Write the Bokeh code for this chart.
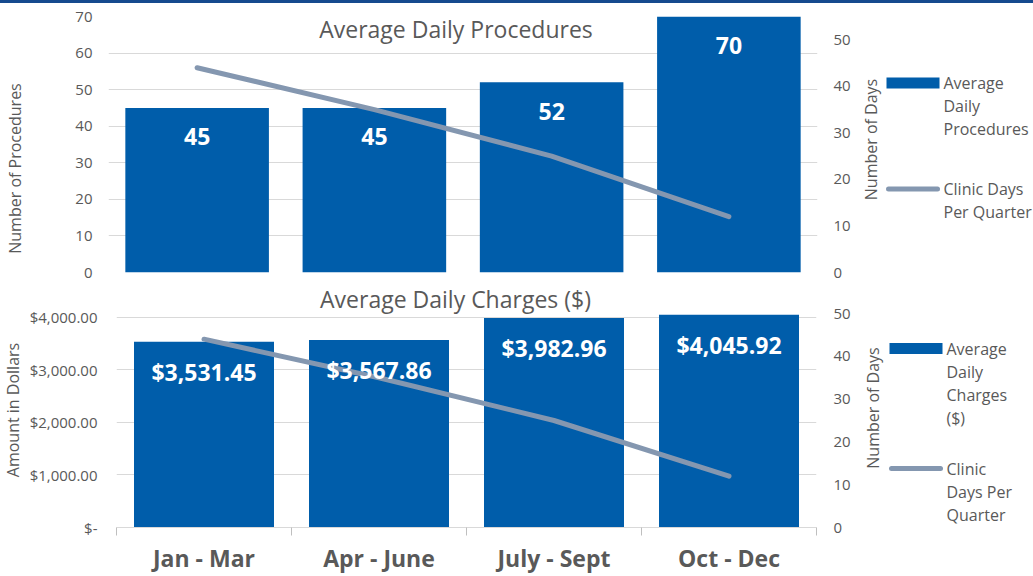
import math
from bokeh.plotting import figure
from bokeh.models import Range1d, LinearAxis, FixedTicker, Label, Div
from bokeh.layouts import column, row
from bokeh.embed import file_html
from bokeh.resources import INLINE
from bokeh.core.properties import value

# ---------------- data ----------------
quarters = ["Jan - Mar", "Apr - June", "July - Sept", "Oct - Dec"]
procedures = [45, 45, 52, 70]
charges = [3531.45, 3567.86, 3982.96, 4045.92]
clinic_days = [44, 35, 25, 12]

proc_ticks = [0, 10, 20, 30, 40, 50, 60, 70]
days_ticks = [0, 10, 20, 30, 40, 50]
charge_ticks = [0, 1000, 2000, 3000, 4000]
charge_tick_labels = ["$-", "$1,000.00", "$2,000.00", "$3,000.00", "$4,000.00"]

legend_top_bar = ["Average", "Daily", "Procedures"]
legend_top_line = ["Clinic Days", "Per Quarter"]
legend_bot_bar = ["Average", "Daily", "Charges", "($)"]
legend_bot_line = ["Clinic", "Days Per", "Quarter"]

# ---------------- style / layout ----------------
BAR = "#005DAA"
LINE = "#8497B0"
TXT = "#595959"
GRID = "#D9D9D9"
FONT = "Open Sans"

xs = [i + 0.5 for i in range(len(quarters))]
seps = [i for i in range(len(quarters) + 1)]

W_LEFT = 24
X_RIGHT = 858            # page x where the right-hand strip starts
W_RIGHT = 1033 - X_RIGHT
W_MAIN = X_RIGHT - W_LEFT

# top panel: page y 3..283, frame 16..272 ; bottom panel: page y 283..576, frame 283..527
TOP1, H1, BT1, BB1 = 3, 280, 13, 11
TOP2, H2, BT2, BB2 = 283, 293, 0, 49
FH1 = H1 - BT1 - BB1
FH2 = H2 - BT2 - BB2


def style_yaxis(ax, tick_standoff):
    ax.major_label_standoff = tick_standoff
    ax.major_label_text_font = FONT
    ax.major_label_text_font_size = "15px"
    ax.major_label_text_color = TXT
    ax.major_tick_line_color = None
    ax.minor_tick_line_color = None
    ax.axis_line_color = None


def base_fig(h, y_end, days_end, bl, br, bt, bb):
    p = figure(width=W_MAIN, height=h, x_range=Range1d(0, len(quarters)),
               y_range=Range1d(0, y_end), output_backend="svg",
               toolbar_location=None, x_axis_location=None,
               min_border_left=bl, min_border_right=br,
               min_border_top=bt, min_border_bottom=bb)
    p.extra_y_ranges = {"days": Range1d(0, days_end)}
    p.outline_line_color = None
    p.background_fill_color = "white"
    p.border_fill_color = "white"
    p.xgrid.visible = False
    return p


class Side:
    """A plain strip beside a chart whose frame is aligned with the chart frame;
    its data units are pixels measured up from the frame bottom."""

    def __init__(self, w, top, h, bt, bb):
        self.frame_bottom = top + h - bb
        self.f = figure(width=w, height=h, x_range=Range1d(0, w),
                        y_range=Range1d(0, h - bt - bb), output_backend="svg",
                        toolbar_location=None, x_axis_location=None,
                        y_axis_location=None, min_border_left=0,
                        min_border_right=0, min_border_top=bt,
                        min_border_bottom=bb)
        self.f.outline_line_color = None
        self.f.grid.visible = False
        self.f.background_fill_color = "white"
        self.f.border_fill_color = "white"

    def y(self, page_y):
        return self.frame_bottom - page_y

    def rotated_title(self, text, x, page_y):
        self.f.text(x=[x], y=[self.y(page_y)], text=[text], angle=math.pi / 2,
                    text_align="center", text_baseline="middle", text_color=TXT,
                    text_font=value(FONT), text_font_size="16px")


def left_side(top, h, bt, bb, label, x, page_y):
    s = Side(W_LEFT, top, h, bt, bb)
    s.rotated_title(label, x, page_y)
    return s.f


def right_side(top, h, bt, bb, label_x_page, label_y_page, swatch_x_page,
               bar_lines, bar_y_page, line_lines, line_y_page):
    s = Side(W_RIGHT, top, h, bt, bb)
    s.rotated_title("Number of Days", label_x_page - X_RIGHT, label_y_page)
    sx = swatch_x_page - X_RIGHT
    yb = s.y(bar_y_page)
    yl = s.y(line_y_page)
    s.f.quad(left=[sx], right=[sx + 53], bottom=[yb - 5.5], top=[yb + 5.5],
             fill_color=BAR, line_color=None)
    s.f.segment(x0=[sx + 2], x1=[sx + 51], y0=[yl], y1=[yl], line_width=5,
                line_color=LINE, line_cap="round")
    for lines, y0 in ((bar_lines, yb), (line_lines, yl)):
        s.f.text(x=[sx + 57] * len(lines), y=[y0 - 23 * i for i in range(len(lines))],
                 text=lines, text_align="left", text_baseline="middle",
                 text_color=TXT, text_font=value(FONT), text_font_size="16px")
    return s.f


# ---------------- top chart ----------------
PROC_END = 70
DAYS1_END = 55
p1 = base_fig(H1, PROC_END, DAYS1_END, 108 - W_LEFT, X_RIGHT - 817, BT1, BB1)
ya1 = p1.yaxis[0]
ya1.ticker = FixedTicker(ticks=proc_ticks)
p1.ygrid.ticker = ya1.ticker
p1.ygrid.grid_line_color = GRID
style_yaxis(ya1, 10)

ra1 = LinearAxis(y_range_name="days", ticker=FixedTicker(ticks=days_ticks))
style_yaxis(ra1, 10)
p1.add_layout(ra1, "right")

p1.vbar(x=xs, top=procedures, width=0.81, fill_color=BAR, line_color=None)
p1.line(xs, clinic_days, y_range_name="days", line_width=5,
        line_color=LINE, line_cap="round", line_join="round")
p1.text(x=xs, y=procedures, text=[str(v) for v in procedures],
        text_align="center", text_baseline="middle", y_offset=29,
        text_color="white", text_font=value(FONT), text_font_style="bold",
        text_font_size="23px")

p1.add_layout(Label(x=len(quarters) / 2, y=PROC_END - 12 * PROC_END / FH1, x_offset=-7,
                    text="Average Daily Procedures", text_align="center",
                    text_baseline="middle", text_font=FONT,
                    text_font_size="23px", text_color=TXT))

lf1 = left_side(TOP1, H1, BT1, BB1, "Number of Procedures", 14, 168)
rf1 = right_side(TOP1, H1, BT1, BB1, 870, 139, 886,
                 legend_top_bar, 82.5, legend_top_line, 188.5)

# ---------------- bottom chart ----------------
PX_PER_DOLLAR = 210.3 / 4000
PX_PER_DAY = 214 / 50
CH_END = FH2 / PX_PER_DOLLAR
DAYS2_END = FH2 / PX_PER_DAY

p2 = base_fig(H2, CH_END, DAYS2_END, 116 - W_LEFT, X_RIGHT - 816, BT2, BB2)
ya2 = p2.yaxis[0]
ya2.ticker = FixedTicker(ticks=charge_ticks)
ya2.major_label_overrides = dict(zip(charge_ticks, charge_tick_labels))
p2.ygrid.ticker = ya2.ticker
p2.ygrid.grid_line_color = GRID
style_yaxis(ya2, 13)

ra2 = LinearAxis(y_range_name="days", ticker=FixedTicker(ticks=days_ticks))
style_yaxis(ra2, 11)
p2.add_layout(ra2, "right")

xa2 = LinearAxis(ticker=FixedTicker(ticks=xs, minor_ticks=seps),
                 major_label_overrides=dict(zip(xs, quarters)))
xa2.axis_line_color = GRID
xa2.major_tick_line_color = None
xa2.minor_tick_line_color = "#BFBFBF"
xa2.minor_tick_out = 8
xa2.minor_tick_in = 0
xa2.major_tick_out = 0
xa2.major_tick_in = 0
xa2.major_label_standoff = 6
xa2.major_label_text_font = FONT
xa2.major_label_text_font_size = "23px"
xa2.major_label_text_font_style = "bold"
xa2.major_label_text_color = TXT
p2.add_layout(xa2, "below")

p2.vbar(x=xs, top=charges, width=0.8, fill_color=BAR, line_color=None)
p2.line(xs, clinic_days, y_range_name="days", line_width=5,
        line_color=LINE, line_cap="round", line_join="round")
p2.text(x=xs, y=charges, text=["${:,.2f}".format(v) for v in charges],
        text_align="center", text_baseline="middle", y_offset=30,
        text_color="white", text_font=value(FONT), text_font_style="bold",
        text_font_size="23px")

p2.add_layout(Label(x=len(quarters) / 2, y=(527 - 298.8) / PX_PER_DOLLAR, x_offset=-11,
                    text="Average Daily Charges ($)", text_align="center",
                    text_baseline="middle", text_font=FONT,
                    text_font_size="23px", text_color=TXT))

lf2 = left_side(TOP2, H2, BT2, BB2, "Amount in Dollars", 12, 409.5)
rf2 = right_side(TOP2, H2, BT2, BB2, 872, 407.5, 889,
                 legend_bot_bar, 348, legend_bot_line, 468)

strip = Div(text="", width=1033, height=3, margin=0,
            styles={"background-color": "#154A8E"})

layout = column(strip,
                row(lf1, p1, rf1, spacing=0),
                row(lf2, p2, rf2, spacing=0), spacing=0)
open("out.html", "w").write(file_html(layout, INLINE))
